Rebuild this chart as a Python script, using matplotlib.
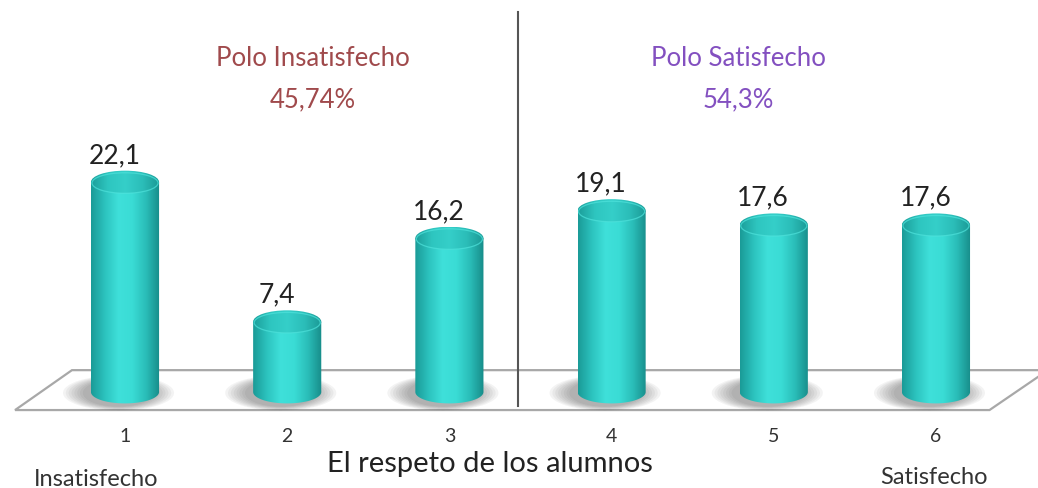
import numpy as np
import matplotlib
matplotlib.use("Agg")
from matplotlib import pyplot as plt
from matplotlib.patches import Ellipse, Polygon
from matplotlib.colors import LinearSegmentedColormap

plt.rcParams['font.family'] = ['Lato', 'DejaVu Sans']

# data
cats = [1, 2, 3, 4, 5, 6]
tick_labels = ['1', '2', '3', '4', '5', '6']
values = [22.1, 7.4, 16.2, 19.1, 17.6, 17.6]
value_labels = ['22,1', '7,4', '16,2', '19,1', '17,6', '17,6']
xlabel = 'El respeto de los alumnos'
pole_left = ('Polo Insatisfecho', '45,74%')
pole_right = ('Polo Satisfecho', '54,3%')

fig = plt.figure(figsize=(10.38, 4.89), dpi=100)
ax = fig.add_axes([0, 0, 1, 1])
ax.set_xlim(0.2293, 6.629)
ax.set_ylim(-10.105, 41.37)
ax.axis('off')

bw = 0.42      # cylinder width (x units)
eh = 2.4       # ellipse height (y units)

body_cmap = LinearSegmentedColormap.from_list(
    'body', ['#1a9a97', '#2cc3be', '#3fe0da', '#3adcd5', '#2abdb8', '#178c89'])
top_cmap = LinearSegmentedColormap.from_list(
    'top', ['#1c9e9a', '#2ec6c0', '#35cfc9', '#2bbdb8', '#1a9894'])
grad = np.linspace(0, 1, 256).reshape(1, -1)

# floor
floor = Polygon([(0.322, -1.9), (6.33, -1.9), (6.69, 2.3), (0.673, 2.3)],
                closed=True, facecolor='white', edgecolor='#a8a8a8', lw=1.6, zorder=1)
ax.add_patch(floor)

for x, v, lab in zip(cats, values, value_labels):
    # shadow on the floor
    for k in range(8):
        ax.add_patch(Ellipse((x - 0.04, -0.1), bw + 0.02 + k * 0.035, eh * 1.2 + k * 0.12,
                             facecolor='#303030', edgecolor='none', alpha=0.055, zorder=2))
    # body with bottom half ellipse
    t = np.linspace(np.pi, 2 * np.pi, 60)
    arc = np.column_stack([x + bw / 2 * np.cos(t), eh / 2 * np.sin(t)])
    pts = np.vstack([[x - bw / 2, v], arc, [x + bw / 2, v]])
    clip = Polygon(pts, closed=True, facecolor='none', edgecolor='none')
    ax.add_patch(clip)
    im = ax.imshow(grad, cmap=body_cmap, aspect='auto', zorder=3,
                   extent=(x - bw / 2, x + bw / 2, -eh, v), interpolation='bicubic')
    im.set_clip_path(clip)
    # top ellipse
    top = Ellipse((x, v), bw, eh, facecolor='none', edgecolor='none')
    ax.add_patch(top)
    im2 = ax.imshow(grad, cmap=top_cmap, aspect='auto', zorder=4,
                    extent=(x - bw / 2, x + bw / 2, v - eh / 2, v + eh / 2), interpolation='bicubic')
    im2.set_clip_path(top)
    ax.add_patch(Ellipse((x, v - 0.1), bw * 0.97, eh * 0.9, facecolor='none',
                         edgecolor='#4fe3dc', lw=0.9, alpha=0.7, zorder=5))
    ax.text(x - 0.065, v + 1.6, lab, ha='center', va='bottom', fontsize=19, color='#222222', zorder=6)

# separator line
ax.plot([3.423, 3.423], [40.0, -1.45], color='#555555', lw=1.5, zorder=5)

# category labels
for x, t in zip(cats, tick_labels):
    ax.text(x, -4.6, t, ha='center', va='center', fontsize=14, color='#333333')
ax.text(0.82, -9.1, 'Insatisfecho', ha='center', va='center', fontsize=17, color='#333333')
ax.text(5.99, -8.9, 'Satisfecho', ha='center', va='center', fontsize=17, color='#333333')
ax.text(3.25, -7.5, xlabel, ha='center', va='center', fontsize=21, color='#222222')

# pole annotations
ax.text(2.16, 35.2, pole_left[0], ha='center', va='center', fontsize=18.5, color='#a04a4c')
ax.text(2.16, 30.9, pole_left[1], ha='center', va='center', fontsize=18.5, color='#a04a4c')
ax.text(4.78, 35.2, pole_right[0], ha='center', va='center', fontsize=18.5, color='#8350c0')
ax.text(4.78, 30.9, pole_right[1], ha='center', va='center', fontsize=18.5, color='#8350c0')

fig.savefig('out.png', dpi=100, facecolor='white')
